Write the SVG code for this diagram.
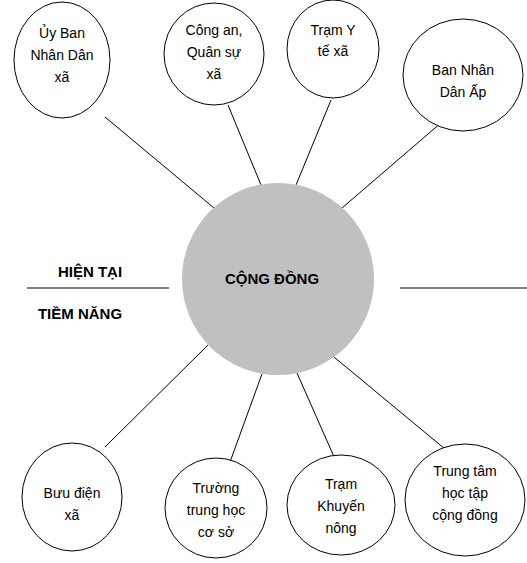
<svg xmlns="http://www.w3.org/2000/svg" width="527" height="563" viewBox="0 0 527 563">
<style>
.n{fill:#fff;stroke:#000;stroke-width:1}
.t{font-family:"Liberation Sans",Arial,sans-serif;font-size:14px;fill:#000;text-anchor:middle}
.b{font-family:"Liberation Sans",Arial,sans-serif;font-size:15px;font-weight:bold;fill:#000;text-anchor:middle}
.c{stroke:#000;stroke-width:1;fill:none}
.d{stroke:#555;stroke-width:1.5}
</style>
<rect width="527" height="563" fill="#fff"/>
<g id="connectors">
<line class="c" x1="105" y1="117" x2="214" y2="208"/>
<line class="c" x1="228" y1="105" x2="261" y2="185"/>
<line class="c" x1="331" y1="100" x2="296" y2="185"/>
<line class="c" x1="442" y1="122" x2="342" y2="208"/>
<line class="c" x1="105" y1="447" x2="208" y2="345"/>
<line class="c" x1="230" y1="462" x2="262" y2="374"/>
<line class="c" x1="335" y1="459" x2="297" y2="373"/>
<line class="c" x1="445" y1="449" x2="334" y2="357"/>
</g>
<g id="dividers">
<line class="d" x1="27" y1="288" x2="169" y2="288"/>
<line class="d" x1="400" y1="288" x2="527" y2="288"/>
</g>
<g id="center">
<circle cx="278" cy="279" r="96" fill="#c0c0c0"/>
<text class="b" x="272" y="284">CỘNG ĐỒNG</text>
</g>
<g id="label-hien-tai"><text class="b" x="90" y="277">HIỆN TẠI</text></g>
<g id="label-tiem-nang"><text class="b" x="80" y="319">TIỀM NĂNG</text></g>
<g id="n1">
<ellipse class="n" cx="62" cy="60" rx="48" ry="58"/>
<text class="t" x="62" y="38">Ủy Ban</text>
<text class="t" x="62" y="60">Nhân Dân</text>
<text class="t" x="62" y="82">xã</text>
</g>
<g id="n2">
<ellipse class="n" cx="214" cy="54" rx="50" ry="51"/>
<text class="t" x="214" y="35">Công an,</text>
<text class="t" x="214" y="57">Quân sự</text>
<text class="t" x="214" y="79">xã</text>
</g>
<g id="n3">
<ellipse class="n" cx="333" cy="49" rx="46" ry="49"/>
<text class="t" x="333" y="35">Trạm Y</text>
<text class="t" x="333" y="56">tế xã</text>
</g>
<g id="n4">
<ellipse class="n" cx="463" cy="75" rx="60" ry="56"/>
<text class="t" x="463" y="75">Ban Nhân</text>
<text class="t" x="463" y="97">Dân Ấp</text>
</g>
<g id="n5">
<ellipse class="n" cx="72" cy="497" rx="50" ry="54"/>
<text class="t" x="72" y="498">Bưu điện</text>
<text class="t" x="72" y="520">xã</text>
</g>
<g id="n6">
<ellipse class="n" cx="216" cy="508" rx="51" ry="50"/>
<text class="t" x="216" y="493">Trường</text>
<text class="t" x="216" y="515">trung học</text>
<text class="t" x="216" y="537">cơ sở</text>
</g>
<g id="n7">
<ellipse class="n" cx="341" cy="505" rx="54" ry="50"/>
<text class="t" x="341" y="489">Trạm</text>
<text class="t" x="341" y="511">Khuyến</text>
<text class="t" x="341" y="533">nông</text>
</g>
<g id="n8">
<ellipse class="n" cx="465" cy="500" rx="60" ry="56"/>
<text class="t" x="465" y="476">Trung tâm</text>
<text class="t" x="465" y="498">học tập</text>
<text class="t" x="465" y="520">cộng đồng</text>
</g>
</svg>
